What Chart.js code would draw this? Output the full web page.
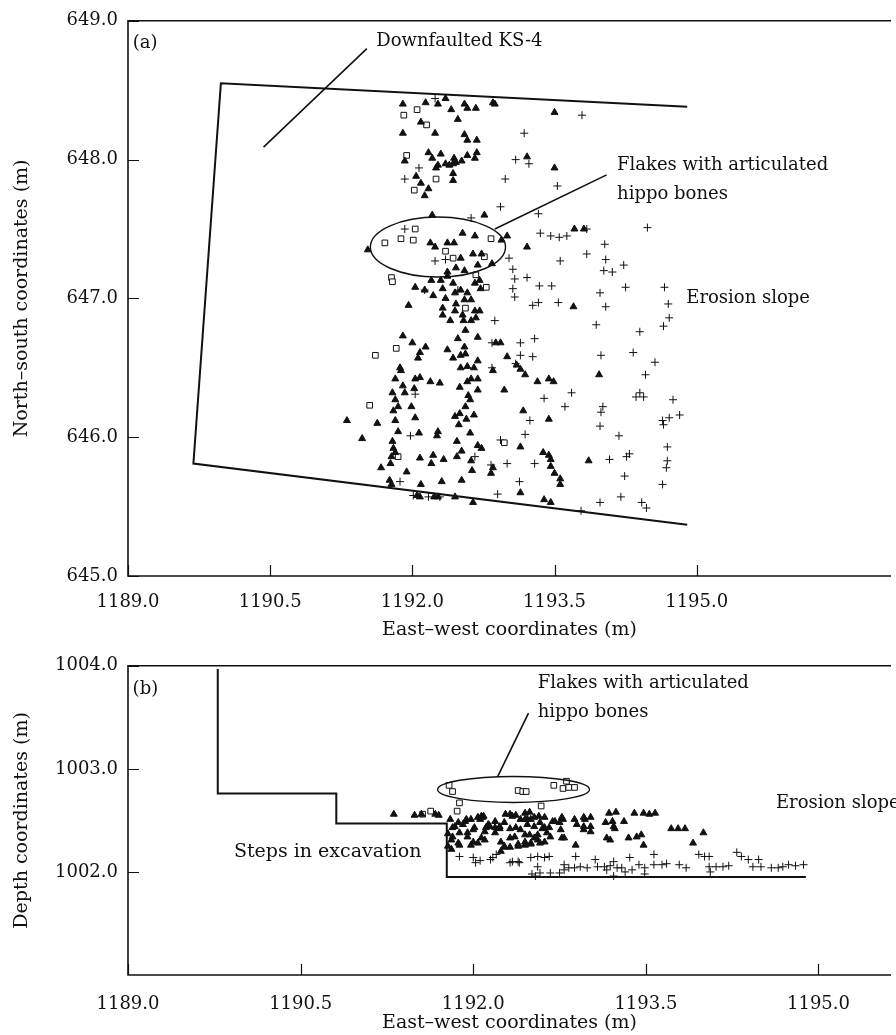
<!DOCTYPE html>
<html>
<head>
<meta charset="utf-8">
<title>Plan and section of finds</title>
<script src="https://cdn.jsdelivr.net/npm/chart.js@4.4.1/dist/chart.umd.min.js"></script>
<style>
  html, body { margin: 0; padding: 0; background: #fff; }
  #wrap { position: relative; width: 896px; height: 1035px; overflow: hidden; }
  canvas { position: absolute; left: 0; }
  #planChart { top: 0; width: 896px; height: 645px; }
  #sectionChart { top: 645px; width: 896px; height: 390px; }
</style>
</head>
<body>
<div id="wrap">
  <canvas id="planChart" width="896" height="645"></canvas>
  <canvas id="sectionChart" width="896" height="390"></canvas>
</div>
<script>
// Tick labels
const planXTicks = [1189.0, 1190.5, 1192.0, 1193.5, 1195.0]
const planYTicks = [645.0, 646.0, 647.0, 648.0, 649.0]
const sectionXTicks = [1189.0, 1190.5, 1192.0, 1193.5, 1195.0]
const sectionYTicks = [1002.0, 1003.0, 1004.0]

// (a) plan view: finds as [east-west, north-south]
const planTriangles = [
  [1191.90, 648.40], [1192.14, 648.41], [1192.35, 648.44], [1192.41, 648.36], [1192.55, 648.40],
  [1192.58, 648.37], [1192.67, 648.37], [1192.85, 648.41], [1193.50, 648.34], [1192.09, 648.27],
  [1191.90, 648.19], [1192.24, 648.19], [1192.48, 648.29], [1192.55, 648.18], [1192.58, 648.14],
  [1192.68, 648.14], [1192.17, 648.05], [1192.21, 648.01], [1192.30, 648.04], [1192.27, 647.96],
  [1192.35, 647.97], [1192.44, 648.01], [1192.43, 647.97], [1192.52, 647.99], [1192.58, 648.03],
  [1192.68, 648.05], [1192.66, 648.01], [1191.92, 647.99], [1192.04, 647.88], [1192.09, 647.83],
  [1192.17, 647.79], [1192.13, 647.74], [1192.43, 647.90], [1192.43, 647.85], [1193.21, 648.02],
  [1193.50, 647.94], [1192.21, 647.60], [1192.76, 647.60], [1192.53, 647.47], [1192.66, 647.45],
  [1193.00, 647.45], [1192.94, 647.42], [1192.19, 647.40], [1192.37, 647.40], [1192.44, 647.40],
  [1192.24, 647.37], [1193.21, 647.37], [1192.64, 647.32], [1192.73, 647.32], [1191.53, 647.35],
  [1192.84, 647.25], [1192.51, 647.29], [1192.69, 647.24], [1192.46, 647.22], [1192.37, 647.19],
  [1192.55, 647.20], [1193.71, 647.50], [1193.81, 647.50], [1193.70, 646.94],
  [1192.25, 647.94], [1192.39, 647.96], [1192.46, 647.98], [1192.87, 648.40], [1192.27, 648.40],
  [1192.03, 647.08], [1192.13, 647.06], [1192.20, 647.13], [1192.22, 647.02], [1192.30, 647.13],
  [1192.32, 647.07], [1192.35, 647.00], [1192.37, 647.16], [1192.43, 647.11], [1192.45, 647.04],
  [1192.46, 646.96], [1192.51, 647.06], [1192.55, 646.99], [1192.58, 647.04], [1192.62, 646.99],
  [1192.66, 647.11], [1192.71, 647.13], [1192.72, 647.07], [1192.32, 646.93], [1192.45, 646.91],
  [1192.53, 646.88], [1192.66, 646.91], [1192.71, 646.91], [1192.32, 646.88], [1192.40, 646.84],
  [1192.54, 646.84], [1192.62, 646.84], [1192.67, 646.86], [1192.56, 646.77], [1191.96, 646.95],
  [1192.69, 646.72], [1191.90, 646.73], [1192.00, 646.68], [1192.14, 646.65], [1192.08, 646.61],
  [1192.06, 646.57], [1192.37, 646.63], [1192.43, 646.57], [1192.48, 646.71], [1192.55, 646.65],
  [1192.56, 646.60], [1192.51, 646.59], [1192.69, 646.55], [1191.87, 646.50], [1191.88, 646.48],
  [1191.82, 646.42], [1192.03, 646.42], [1192.08, 646.43], [1192.19, 646.40], [1192.29, 646.39],
  [1192.51, 646.50], [1192.58, 646.51], [1192.65, 646.50], [1192.50, 646.36], [1192.58, 646.40],
  [1192.62, 646.42], [1192.69, 646.42], [1192.69, 646.34], [1191.90, 646.37], [1191.79, 646.32],
  [1191.92, 646.32], [1192.02, 646.35], [1191.82, 646.27], [1191.85, 646.22], [1191.99, 646.22],
  [1191.80, 646.19], [1192.59, 646.30], [1192.61, 646.27], [1192.56, 646.22], [1192.03, 646.14],
  [1192.45, 646.15], [1192.50, 646.17], [1192.65, 646.16], [1192.49, 646.09], [1192.57, 646.13],
  [1191.82, 646.12], [1191.85, 646.04], [1191.63, 646.10], [1191.31, 646.12], [1191.47, 645.99],
  [1192.07, 646.03], [1192.27, 646.04], [1192.26, 646.01], [1192.47, 645.97], [1192.61, 646.03],
  [1192.69, 645.94], [1192.73, 645.92], [1191.79, 645.97], [1191.80, 645.92], [1191.78, 645.86],
  [1191.82, 645.89], [1192.08, 645.85], [1192.22, 645.87], [1192.20, 645.81], [1192.33, 645.84],
  [1192.47, 645.86], [1192.52, 645.90], [1192.63, 645.76], [1192.85, 645.78], [1191.67, 645.78],
  [1191.77, 645.81], [1191.94, 645.75], [1191.76, 645.69], [1191.78, 645.66], [1192.09, 645.66],
  [1192.31, 645.68], [1192.52, 645.69], [1192.05, 645.58], [1192.08, 645.57], [1192.23, 645.57],
  [1192.27, 645.57], [1192.45, 645.57], [1192.64, 645.53], [1192.83, 645.74], [1193.00, 646.58],
  [1193.10, 646.52], [1193.14, 646.49], [1193.19, 646.45], [1193.32, 646.40], [1193.44, 646.42],
  [1193.49, 646.40], [1192.97, 646.34], [1193.17, 646.19], [1193.44, 646.13], [1193.14, 645.93],
  [1193.38, 645.89], [1193.44, 645.87], [1193.46, 645.84], [1193.46, 645.79], [1193.50, 645.74],
  [1193.56, 645.70], [1193.56, 645.66], [1193.14, 645.60], [1193.39, 645.55], [1193.46, 645.53],
  [1193.97, 646.45], [1193.86, 645.83], [1192.88, 646.68], [1192.85, 646.48], [1192.93, 646.68],
  [1192.62, 645.83],
]

const planSquares = [
  [1191.91, 648.32], [1192.05, 648.36], [1192.15, 648.25], [1191.94, 648.03], [1192.25, 647.86],
  [1192.02, 647.78], [1191.71, 647.40], [1191.88, 647.43], [1192.01, 647.42], [1192.03, 647.50],
  [1192.35, 647.34], [1192.43, 647.29], [1192.76, 647.30], [1192.83, 647.43], [1191.78, 647.15],
  [1191.79, 647.12], [1192.78, 647.08], [1192.56, 646.93], [1192.67, 647.17], [1191.83, 646.64],
  [1191.61, 646.59], [1191.55, 646.23], [1191.85, 645.86], [1192.97, 645.96],
]

const planCrosses = [
  [1192.24, 648.44], [1193.79, 648.32], [1193.18, 648.19], [1193.09, 648.00], [1193.23, 647.97],
  [1192.07, 647.94], [1191.92, 647.86], [1192.98, 647.86], [1193.53, 647.81], [1192.93, 647.66],
  [1193.33, 647.61], [1192.62, 647.58], [1193.35, 647.47], [1193.46, 647.45], [1193.55, 647.44],
  [1193.63, 647.45], [1193.84, 647.50], [1194.48, 647.51], [1194.03, 647.39], [1193.84, 647.32],
  [1193.56, 647.27], [1194.04, 647.28], [1194.02, 647.20], [1194.11, 647.19], [1194.23, 647.24],
  [1193.02, 647.29], [1193.06, 647.21], [1193.08, 647.14], [1193.21, 647.15], [1193.34, 647.09],
  [1193.47, 647.09], [1193.06, 647.07], [1193.08, 647.01], [1193.27, 646.95], [1193.54, 646.97],
  [1194.04, 646.94], [1193.98, 647.04], [1194.25, 647.08], [1194.66, 647.08], [1194.70, 646.96],
  [1194.71, 646.86], [1194.65, 646.80], [1194.40, 646.76], [1193.94, 646.81], [1192.87, 646.84],
  [1191.92, 647.50], [1192.35, 647.28], [1192.24, 647.27], [1192.13, 647.06], [1192.48, 647.06],
  [1192.84, 646.50], [1193.14, 646.68], [1192.84, 646.68], [1193.14, 646.59], [1193.09, 646.53],
  [1192.03, 646.31], [1193.33, 646.97], [1193.29, 646.71], [1193.27, 646.58], [1193.99, 646.59],
  [1194.33, 646.61], [1194.56, 646.54], [1194.46, 646.45], [1193.68, 646.32], [1193.39, 646.28],
  [1193.61, 646.22], [1194.40, 646.32], [1194.36, 646.29], [1194.44, 646.29], [1194.75, 646.27],
  [1194.01, 646.22], [1193.99, 646.18], [1193.24, 646.12], [1194.64, 646.12], [1194.65, 646.09],
  [1194.71, 646.14], [1194.82, 646.16], [1193.98, 646.08], [1194.18, 646.01], [1191.98, 646.01],
  [1193.19, 646.02], [1192.93, 645.98], [1194.69, 645.93], [1194.69, 645.83], [1194.68, 645.78],
  [1194.29, 645.88], [1194.26, 645.86], [1194.08, 645.84], [1192.66, 645.86], [1193.00, 645.81],
  [1192.83, 645.80], [1193.29, 645.81], [1193.13, 645.68], [1191.87, 645.68], [1194.24, 645.72],
  [1194.64, 645.66], [1192.01, 645.58], [1192.17, 645.57], [1192.29, 645.57], [1192.90, 645.59],
  [1193.78, 645.47], [1193.98, 645.53], [1194.20, 645.57], [1194.42, 645.53], [1194.47, 645.49],
]

// (b) section view: finds as [east-west, depth]
const sectionTriangles = [
  [1191.31, 1002.56], [1191.49, 1002.55], [1191.55, 1002.56], [1191.67, 1002.56], [1191.70, 1002.55],
  [1191.80, 1002.51], [1191.82, 1002.43], [1191.87, 1002.48], [1191.88, 1002.38], [1191.93, 1002.49],
  [1191.98, 1002.51], [1192.01, 1002.43], [1192.04, 1002.53], [1192.09, 1002.54], [1192.11, 1002.43],
  [1192.19, 1002.38], [1192.23, 1002.42], [1192.28, 1002.56], [1192.34, 1002.54], [1192.32, 1002.42],
  [1192.37, 1002.43], [1192.41, 1002.51], [1192.45, 1002.57], [1192.49, 1002.58], [1192.50, 1002.51],
  [1192.53, 1002.44], [1192.45, 1002.36], [1192.57, 1002.54], [1192.62, 1002.53], [1192.60, 1002.42],
  [1192.66, 1002.43], [1192.69, 1002.49], [1192.75, 1002.48], [1192.77, 1002.53], [1192.76, 1002.41],
  [1192.67, 1002.34], [1192.62, 1002.29], [1192.27, 1002.25], [1192.32, 1002.24], [1192.39, 1002.25],
  [1192.45, 1002.26], [1192.50, 1002.28], [1192.56, 1002.31], [1192.10, 1002.31], [1192.04, 1002.28],
  [1191.98, 1002.26], [1191.87, 1002.28], [1191.82, 1002.34], [1191.78, 1002.25], [1192.88, 1002.51],
  [1192.90, 1002.46], [1192.97, 1002.51], [1193.02, 1002.53], [1192.96, 1002.41], [1193.02, 1002.39],
  [1193.18, 1002.57], [1193.24, 1002.58], [1193.15, 1002.48], [1193.31, 1002.49], [1193.23, 1002.42],
  [1193.40, 1002.57], [1193.48, 1002.57], [1193.53, 1002.56], [1193.58, 1002.57], [1193.35, 1002.33],
  [1193.42, 1002.34], [1193.46, 1002.36], [1193.48, 1002.26], [1193.19, 1002.31], [1192.89, 1002.26],
  [1193.72, 1002.42], [1193.78, 1002.42], [1193.84, 1002.42], [1194.00, 1002.38], [1193.91, 1002.28],
  [1192.77, 1002.33], [1192.19, 1002.49], [1192.14, 1002.45], [1192.41, 1002.41], [1192.32, 1002.33],
  [1191.84, 1002.44], [1191.95, 1002.38], [1192.07, 1002.54], [1192.13, 1002.46], [1192.10, 1002.39],
  [1192.24, 1002.29], [1191.81, 1002.22], [1192.00, 1002.29], [1192.47, 1002.51],
  [1191.91, 1002.46], [1191.94, 1002.51], [1192.06, 1002.51], [1192.08, 1002.53], [1192.00, 1002.41],
  [1191.95, 1002.34], [1192.07, 1002.33], [1192.14, 1002.44], [1192.19, 1002.43], [1192.23, 1002.44],
  [1192.27, 1002.48], [1192.32, 1002.56], [1192.37, 1002.55], [1192.45, 1002.51], [1192.47, 1002.46],
  [1192.49, 1002.36], [1192.45, 1002.29], [1192.39, 1002.27], [1192.27, 1002.24], [1192.24, 1002.20],
  [1192.36, 1002.34], [1192.53, 1002.53], [1192.58, 1002.48], [1192.62, 1002.43], [1192.64, 1002.38],
  [1192.56, 1002.36], [1192.53, 1002.33], [1192.50, 1002.27], [1192.58, 1002.28], [1192.71, 1002.49],
  [1192.78, 1002.51], [1192.79, 1002.33], [1192.96, 1002.53], [1192.96, 1002.44], [1193.02, 1002.44],
  [1193.16, 1002.33], [1193.21, 1002.49], [1193.22, 1002.44], [1191.88, 1002.26], [1191.81, 1002.31],
  [1191.78, 1002.37],
]

const sectionSquares = [
  [1191.56, 1002.56], [1191.63, 1002.59], [1191.79, 1002.84], [1191.82, 1002.78], [1191.88, 1002.67],
  [1191.86, 1002.59], [1192.39, 1002.79], [1192.43, 1002.78], [1192.46, 1002.78], [1192.70, 1002.84],
  [1192.78, 1002.81], [1192.81, 1002.88], [1192.83, 1002.82], [1192.88, 1002.82], [1192.59, 1002.64],
]

const sectionCrosses = [
  [1191.88, 1002.15], [1192.00, 1002.14], [1192.02, 1002.09], [1192.06, 1002.11], [1192.15, 1002.12],
  [1192.17, 1002.14], [1192.20, 1002.17], [1192.32, 1002.09], [1192.34, 1002.10], [1192.39, 1002.10],
  [1192.40, 1002.09], [1192.50, 1002.14], [1192.56, 1002.15], [1192.62, 1002.14], [1192.66, 1002.15],
  [1192.56, 1002.05], [1192.58, 1001.99], [1192.51, 1001.98], [1192.79, 1002.07], [1192.89, 1002.15],
  [1192.67, 1001.99], [1192.75, 1001.99], [1192.83, 1002.04], [1192.88, 1002.04], [1192.93, 1002.05],
  [1192.99, 1002.04], [1193.06, 1002.12], [1193.08, 1002.05], [1193.14, 1002.05], [1193.16, 1002.02],
  [1193.19, 1002.06], [1193.22, 1002.10], [1193.25, 1002.04], [1193.29, 1002.04], [1193.32, 1002.00],
  [1193.38, 1002.02], [1193.44, 1002.07], [1193.49, 1002.04], [1193.57, 1002.07], [1193.64, 1002.07],
  [1193.68, 1002.08], [1193.79, 1002.07], [1193.85, 1002.04], [1193.96, 1002.17], [1194.01, 1002.15],
  [1194.05, 1002.15], [1194.05, 1002.05], [1194.06, 1002.00], [1194.11, 1002.05], [1194.17, 1002.05],
  [1194.22, 1002.06], [1194.29, 1002.19], [1194.33, 1002.15], [1194.39, 1002.12], [1194.43, 1002.05],
  [1194.48, 1002.12], [1194.50, 1002.05], [1194.59, 1002.04], [1194.65, 1002.04], [1194.69, 1002.05],
  [1194.74, 1002.07], [1194.80, 1002.06], [1194.87, 1002.07], [1193.57, 1002.17], [1193.36, 1002.14],
  [1193.22, 1001.96], [1193.49, 1001.98], [1192.54, 1001.96], [1192.79, 1002.02],
]

// Excavation outlines and leader lines
const planOutline = [[1194.90, 648.38], [1189.98, 648.55], [1189.69, 645.81], [1194.90, 645.37]]
const planLeaderKS4 = [[1190.43, 648.09], [1191.52, 648.80]]
const planLeaderFlakes = [[1192.87, 647.50], [1194.05, 647.89]]
const sectionOutline = [
  [1189.78, 1003.97], [1189.78, 1002.76], [1190.81, 1002.76], [1190.81, 1002.47],
  [1191.77, 1002.47], [1191.77, 1001.95], [1194.89, 1001.95],
]
const sectionLeaderFlakes = [[1192.21, 1002.92], [1192.48, 1003.54]]

const SERIF = '"DejaVu Serif", "Liberation Serif", serif'
const INK = "#111"

const toXY = (pairs) => pairs.map((p) => ({ x: p[0], y: p[1] }))

function markerSets(triangles, squares, crosses) {
  return [
    {
      data: toXY(triangles),
      pointStyle: "triangle",
      pointRadius: 4,
      backgroundColor: INK,
      borderColor: INK,
      borderWidth: 1,
    },
    {
      data: toXY(squares),
      pointStyle: "rect",
      pointRadius: 4,
      backgroundColor: "#fff",
      borderColor: INK,
      borderWidth: 1,
    },
    {
      data: toXY(crosses),
      pointStyle: "cross",
      pointRadius: 4,
      borderColor: INK,
      borderWidth: 1,
    },
  ]
}

function lineSet(pairs, width) {
  return {
    data: toXY(pairs),
    showLine: true,
    pointRadius: 0,
    borderColor: INK,
    borderWidth: width,
    fill: false,
  }
}

// Frame on three sides plus inward tick marks
const framePlugin = {
  id: "frame",
  afterDatasetsDraw(chart) {
    const { ctx, chartArea: a, scales } = chart
    ctx.save()
    ctx.strokeStyle = INK
    ctx.lineWidth = 1.6
    ctx.beginPath()
    ctx.moveTo(a.right, a.top)
    ctx.lineTo(a.left, a.top)
    ctx.lineTo(a.left, a.bottom)
    ctx.lineTo(a.right, a.bottom)
    ctx.stroke()
    ctx.lineWidth = 1.2
    ctx.beginPath()
    scales.x.ticks.forEach((t) => {
      const px = Math.round(scales.x.getPixelForValue(t.value)) + 0.5
      ctx.moveTo(px, a.bottom)
      ctx.lineTo(px, a.bottom - 11)
    })
    scales.y.ticks.forEach((t) => {
      const py = Math.round(scales.y.getPixelForValue(t.value)) + 0.5
      ctx.moveTo(a.left, py)
      ctx.lineTo(a.left + 11, py)
    })
    ctx.stroke()
    ctx.restore()
  },
}

// Text notes and ellipses placed in data units
const notesPlugin = {
  id: "notes",
  afterDraw(chart, args, opts) {
    const { ctx, scales } = chart
    const sx = (v) => scales.x.getPixelForValue(v)
    const sy = (v) => scales.y.getPixelForValue(v)
    ctx.save()
    ctx.strokeStyle = INK
    ctx.lineWidth = 1.4
    opts.ellipses.forEach((e) => {
      ctx.beginPath()
      ctx.ellipse(sx(e.cx), sy(e.cy), sx(e.cx + e.rx) - sx(e.cx), sy(e.cy) - sy(e.cy + e.ry), 0, 0, Math.PI * 2)
      ctx.stroke()
    })
    ctx.fillStyle = INK
    ctx.textBaseline = "middle"
    ctx.textAlign = "left"
    opts.notes.forEach((n) => {
      ctx.font = `${n.size}px ${SERIF}`
      ctx.fillText(n.text, sx(n.x), sy(n.y))
    })
    ctx.restore()
  },
}

function makeChart(id, cfg) {
  return new Chart(document.getElementById(id), {
    type: "scatter",
    data: { datasets: cfg.datasets },
    plugins: [framePlugin, notesPlugin],
    options: {
      responsive: false,
      animation: false,
      devicePixelRatio: 1,
      layout: { padding: { top: cfg.padTop, right: 0, bottom: 0, left: 0 } },
      plugins: {
        legend: { display: false },
        tooltip: { enabled: false },
        notes: { notes: cfg.notes, ellipses: cfg.ellipses },
      },
      scales: {
        x: {
          type: "linear",
          min: cfg.xMin,
          max: cfg.xMax,
          afterBuildTicks: (s) => { s.ticks = cfg.xTicks.map((v) => ({ value: v })) },
          afterFit: (s) => { s.height = cfg.xAxisHeight },
          grid: { display: false, drawTicks: false },
          border: { display: false },
          ticks: {
            padding: cfg.xTickPad,
            maxRotation: 0,
            color: INK,
            font: { family: SERIF, size: 18 },
            callback: (v) => Number(v).toFixed(1),
          },
          title: {
            display: true,
            text: "East–west coordinates (m)",
            color: INK,
            font: { family: SERIF, size: 19 },
            padding: { top: 0, bottom: cfg.xTitlePad },
          },
        },
        y: {
          type: "linear",
          min: cfg.yMin,
          max: cfg.yMax,
          afterBuildTicks: (s) => { s.ticks = cfg.yTicks.map((v) => ({ value: v })) },
          afterFit: (s) => { s.width = 128 },
          grid: { display: false, drawTicks: false },
          border: { display: false },
          ticks: {
            padding: 10,
            color: INK,
            font: { family: SERIF, size: 18 },
            callback: (v) => Number(v).toFixed(1),
          },
          title: {
            display: true,
            text: cfg.yTitle,
            color: INK,
            font: { family: SERIF, size: 19 },
            padding: { top: 11, bottom: 0 },
          },
        },
      },
    },
  })
}

makeChart("planChart", {
  datasets: [
    ...markerSets(planTriangles, planSquares, planCrosses),
    lineSet(planOutline, 2),
    lineSet(planLeaderKS4, 1.6),
    lineSet(planLeaderFlakes, 1.6),
  ],
  xMin: 1189.0,
  xMax: 1197.05,
  yMin: 645.0,
  yMax: 649.0,
  xTicks: planXTicks,
  yTicks: planYTicks,
  padTop: 20,
  xAxisHeight: 69,
  xTickPad: 16,
  xTitlePad: 4,
  yTitle: "North–south coordinates (m)",
  ellipses: [{ cx: 1192.27, cy: 647.37, rx: 0.713, ry: 0.216 }],
  notes: [
    { text: "(a)", x: 1189.05, y: 648.84, size: 18 },
    { text: "Downfaulted KS-4", x: 1191.62, y: 648.85, size: 18 },
    { text: "Flakes with articulated", x: 1194.16, y: 647.96, size: 18 },
    { text: "hippo bones", x: 1194.16, y: 647.75, size: 18 },
    { text: "Erosion slope", x: 1194.89, y: 647.0, size: 18 },
  ],
})

makeChart("sectionChart", {
  datasets: [
    ...markerSets(sectionTriangles, sectionSquares, sectionCrosses),
    lineSet(sectionOutline, 2),
    lineSet(sectionLeaderFlakes, 1.6),
  ],
  xMin: 1189.0,
  xMax: 1195.63,
  yMin: 1001.0,
  yMax: 1004.0,
  xTicks: sectionXTicks,
  yTicks: sectionYTicks,
  padTop: 20,
  xAxisHeight: 60,
  xTickPad: 19,
  xTitlePad: 1,
  yTitle: "Depth coordinates (m)",
  ellipses: [{ cx: 1192.35, cy: 1002.80, rx: 0.66, ry: 0.126 }],
  notes: [
    { text: "(b)", x: 1189.04, y: 1003.77, size: 18 },
    { text: "Flakes with articulated", x: 1192.56, y: 1003.83, size: 18 },
    { text: "hippo bones", x: 1192.56, y: 1003.55, size: 18 },
    { text: "Erosion slope", x: 1194.63, y: 1002.67, size: 18 },
    { text: "Steps in excavation", x: 1189.92, y: 1002.19, size: 19 },
  ],
})
</script>
</body>
</html>
